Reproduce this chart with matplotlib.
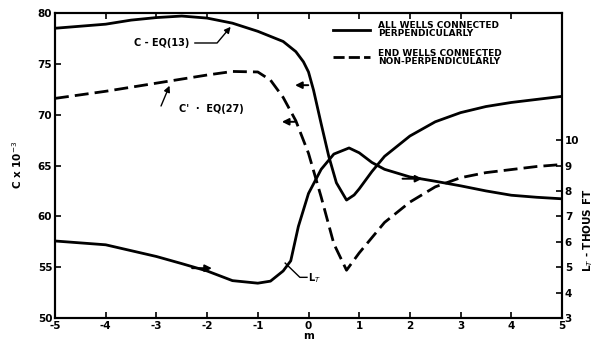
import matplotlib
matplotlib.use("Agg")
import matplotlib.pyplot as plt

plt.rcParams['font.family'] = ['DejaVu Sans']
plt.rcParams['axes.unicode_minus'] = False

# C - EQ(13), all wells connected perpendicularly (left axis)
m_c = [-5, -4, -3.5, -3, -2.5, -2, -1.5, -1, -0.5, -0.25, -0.1, 0, 0.1, 0.25, 0.4,
       0.55, 0.75, 0.9, 1.0, 1.25, 1.5, 2, 2.5, 3, 3.5, 4, 4.5, 5]
c_vals = [78.5, 78.9, 79.3, 79.55, 79.7, 79.5, 79.0, 78.2, 77.2, 76.2, 75.2, 74.2,
          72.4, 69.1, 65.9, 63.3, 61.6, 62.1, 62.7, 64.4, 65.9, 67.9, 69.3, 70.2,
          70.8, 71.2, 71.5, 71.8]

# C' - EQ(27), end wells connected non-perpendicularly (left axis)
m_cp = [-5, -4, -3, -2, -1.5, -1, -0.75, -0.5, -0.25, 0, 0.25, 0.5, 0.75, 1.0,
        1.5, 2, 2.5, 3, 3.5, 4, 4.5, 5]
cp_vals = [71.6, 72.3, 73.1, 73.9, 74.25, 74.2, 73.4, 71.7, 69.4, 66.2, 61.9, 57.3,
           54.7, 56.4, 59.4, 61.4, 62.9, 63.8, 64.3, 64.6, 64.9, 65.1]

# L_T (right axis, thousands of ft)
m_lt = [-5, -4, -3.5, -3, -2.5, -2, -1.5, -1, -0.75, -0.5, -0.35, -0.2, 0, 0.25,
        0.5, 0.8, 1.0, 1.25, 1.5, 2, 2.5, 3, 3.5, 4, 4.5, 5]
lt_vals = [6.03, 5.88, 5.65, 5.42, 5.14, 4.85, 4.47, 4.37, 4.45, 4.85, 5.25, 6.6,
           7.9, 8.85, 9.45, 9.69, 9.50, 9.12, 8.85, 8.55, 8.38, 8.20, 8.00, 7.83,
           7.75, 7.69]

x_ticks = [-5, -4, -3, -2, -1, 0, 1, 2, 3, 4, 5]
x_ticklabels = ['-5', '-4', '-3', '-2', '-1', '0', '1', '2', '3', '4', '5']
left_ticks = [50, 55, 60, 65, 70, 75, 80]
right_ticks = [3, 4, 5, 6, 7, 8, 9, 10]

fig = plt.figure(figsize=(6.02, 3.47), dpi=100)
ax = fig.add_axes([55/602, 1-318/347, (562-55)/602, (318-13)/347])
ax2 = ax.twinx()

lw = 2.0
ax.plot(m_c, c_vals, color='black', lw=lw, solid_joinstyle='round')
ax.plot(m_cp, cp_vals, color='black', lw=lw, dashes=(5, 2.2))
ax2.plot(m_lt, lt_vals, color='black', lw=lw, solid_joinstyle='round')

ax.set_xlim(-5, 5)
ax.set_ylim(50, 80)
ax2.set_ylim(3, 15)

fs = 7.5
ax.set_xticks(x_ticks)
ax.set_xticklabels(x_ticklabels, fontsize=fs, fontweight='bold')
ax.set_yticks(left_ticks)
ax.set_yticklabels([str(v) for v in left_ticks], fontsize=fs, fontweight='bold')
ax2.set_yticks(right_ticks)
ax2.set_yticklabels([str(v) for v in right_ticks], fontsize=fs, fontweight='bold')

ax.tick_params(axis='both', direction='in', length=4, width=1.2, top=True, pad=2)
ax2.tick_params(axis='y', direction='in', length=4, width=1.2, pad=2)
for a in (ax, ax2):
    for s in a.spines.values():
        s.set_linewidth(1.5)

ax.set_xlabel('m', fontsize=fs, fontweight='bold', labelpad=0)
fig.text(17/602, 1-165/347, 'C x 10$^{-3}$', rotation=90, ha='center', va='center',
         fontsize=fs, fontweight='bold')
fig.text(588/602, 1-230/347, 'L$_T$ - THOUS FT', rotation=90, ha='center', va='center',
         fontsize=fs, fontweight='bold')

# Legend (hand-drawn style)
ax.plot([0.48, 1.21], [78.3, 78.3], color='black', lw=lw)
ax.plot([0.48, 1.21], [75.7, 75.7], color='black', lw=lw, dashes=(4, 1.5))
ax.text(1.37, 78.4, 'ALL WELLS CONNECTED\nPERPENDICULARLY', fontsize=6.5,
        fontweight='bold', va='center', ha='left', linespacing=0.85)
ax.text(1.37, 75.6, 'END WELLS CONNECTED\nNON-PERPENDICULARLY', fontsize=6.5,
        fontweight='bold', va='center', ha='left', linespacing=0.85)

# Curve labels
ax.text(-3.45, 77.05, 'C - EQ(13)', fontsize=7, fontweight='bold', va='center')
ax.annotate('', xy=(-1.5, 78.85), xytext=(-2.3, 77.05),
            arrowprops=dict(arrowstyle='-|>', color='black', lw=1.0,
                            mutation_scale=9,
                            connectionstyle='angle,angleA=0,angleB=50,rad=0'))
ax.text(-2.55, 70.6, "C'  ·  EQ(27)", fontsize=7, fontweight='bold', va='center')
ax.annotate('', xy=(-2.72, 73.1), xytext=(-2.93, 70.6),
            arrowprops=dict(arrowstyle='-|>', color='black', lw=1.0, mutation_scale=9))
ax.text(0.0, 53.9, 'L$_T$', fontsize=7, fontweight='bold', va='center')
ax.plot([-0.46, -0.17, -0.03], [55.4, 54.0, 54.0], color='black', lw=1.0)

# Direction arrows on curves
arrow_kw = dict(arrowstyle='-|>', color='black', lw=1.4, mutation_scale=10)
ax.annotate('', xy=(-0.32, 72.9), xytext=(0.05, 72.9), arrowprops=arrow_kw)
ax.annotate('', xy=(-0.58, 69.3), xytext=(-0.22, 69.3), arrowprops=arrow_kw)
ax.annotate('', xy=(-1.85, 54.9), xytext=(-2.35, 54.9), arrowprops=arrow_kw)
ax.annotate('', xy=(2.3, 63.7), xytext=(1.8, 63.7), arrowprops=arrow_kw)

fig.savefig('out.png', dpi=100)
